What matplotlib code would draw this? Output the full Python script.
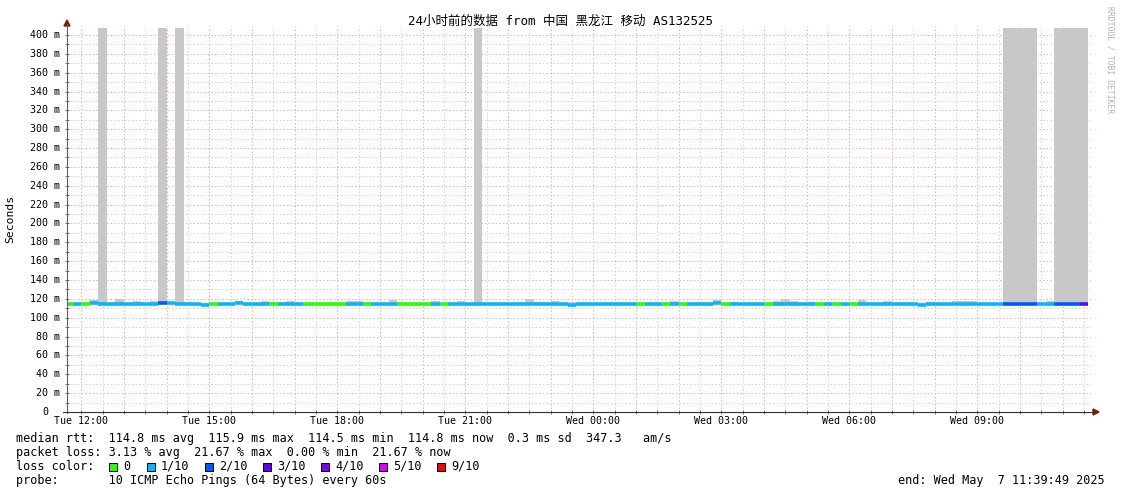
import numpy as np
import matplotlib
matplotlib.use('Agg')
import matplotlib.pyplot as plt
from matplotlib.lines import Line2D
from matplotlib.patches import Rectangle, Polygon
from matplotlib.transforms import offset_copy

W, H = 1121, 494
MONO = 'DejaVu Sans Mono'

# time axis (hours since Tue 00:00), 12 minute bins
t_start = 11 + 39 / 60 + 49 / 3600
t_end = t_start + 24
bin_width = 0.2
bin_left = 11.6 + bin_width * np.arange(120)

# median rtt per bin (ms)
median = [
    114.8, 114.8, 114.3, 115.3, 114.6, 114.6, 115.1, 115.1, 115.1, 114.6,
    114.6, 115.3, 115.2, 114.8, 114.8, 114.8, 114.0, 114.6, 114.8, 114.8,
    115.4, 114.8, 114.8, 114.8, 114.3, 114.8, 114.8, 114.8, 114.6, 114.6,
    114.6, 114.6, 114.6, 114.8, 114.8, 114.6, 114.8, 114.8, 114.8, 114.6,
    114.6, 114.6, 114.6, 114.8, 114.8, 114.8, 114.8, 114.8, 114.8, 114.8,
    114.8, 114.8, 114.8, 114.8, 114.8, 114.8, 114.8, 114.8, 114.8, 114.0,
    114.8, 114.8, 114.8, 114.8, 114.8, 114.8, 114.8, 114.8, 114.8, 114.8,
    114.8, 114.8, 114.8, 114.8, 114.8, 114.8, 115.4, 114.8, 114.8, 114.8,
    114.8, 114.8, 114.8, 114.8, 114.8, 114.8, 114.8, 114.8, 114.8, 114.8,
    114.8, 114.8, 114.8, 114.8, 114.8, 114.8, 114.8, 114.8, 114.8, 114.8,
    114.0, 114.8, 114.8, 114.8, 114.8, 114.8, 114.8, 114.8, 114.8, 114.8,
    114.6, 114.6, 114.6, 114.6, 114.8, 114.8, 114.6, 114.6, 114.6, 114.6,
]

# lost pings out of 10 per bin
loss = [
    0, 1, 0, 1, 1, 1, 1, 1, 1, 1,
    1, 2, 1, 1, 1, 1, 1, 0, 1, 1,
    1, 1, 1, 1, 0, 1, 1, 1, 0, 0,
    0, 0, 0, 1, 1, 0, 1, 1, 1, 0,
    0, 0, 0, 1, 0, 1, 1, 1, 1, 1,
    1, 1, 1, 1, 1, 1, 1, 1, 1, 1,
    1, 1, 1, 1, 1, 1, 1, 0, 1, 1,
    0, 1, 0, 1, 1, 1, 1, 0, 1, 1,
    1, 1, 0, 1, 1, 1, 1, 1, 0, 1,
    0, 1, 0, 1, 1, 1, 1, 1, 1, 1,
    1, 1, 1, 1, 1, 1, 1, 1, 1, 1,
    2, 2, 2, 2, 1, 1, 2, 2, 2, 3,
]

# top of the smoke (max ping) per bin (ms)
smoke_top = [
    116.0, 116.0, 117.0, 118.8, 407.5, 116.0, 120.0, 116.0, 117.5, 116.0,
    117.5, 407.5, 116.0, 407.5, 117.0, 116.0, 116.0, 116.0, 116.0, 116.0,
    117.8, 116.0, 116.0, 118.0, 117.0, 116.0, 117.5, 116.0, 116.0, 116.0,
    116.0, 116.0, 116.0, 117.5, 117.5, 116.0, 116.0, 116.0, 119.0, 116.0,
    116.0, 116.0, 116.0, 117.5, 116.0, 116.0, 117.5, 116.0, 407.5, 116.0,
    116.0, 116.0, 116.0, 116.0, 119.5, 117.0, 116.0, 118.0, 116.0, 117.0,
    116.0, 116.0, 116.0, 116.0, 116.0, 116.0, 116.0, 116.0, 116.0, 116.0,
    116.0, 117.5, 116.0, 116.0, 117.0, 116.0, 118.5, 116.0, 117.0, 116.0,
    116.0, 116.0, 116.0, 117.5, 119.5, 117.5, 116.0, 117.0, 116.0, 116.0,
    116.0, 116.0, 116.0, 118.3, 116.0, 116.0, 117.3, 116.0, 116.0, 116.0,
    116.0, 117.0, 116.0, 116.0, 118.0, 118.0, 117.3, 116.0, 116.0, 116.0,
    407.5, 407.5, 407.5, 407.5, 116.0, 117.5, 407.5, 407.5, 407.5, 407.5,
]

loss_levels = [0, 1, 2, 3, 4, 5, 9]
loss_labels = ['0', '1/10', '2/10', '3/10', '4/10', '5/10', '9/10']
loss_colors = ['#26ff00', '#00b8ff', '#0059ff', '#5e00ff', '#7e00ff', '#dd00ff', '#ff0000']

xtick_pos = [12, 15, 18, 21, 24, 27, 30, 33]
xtick_labels = ['Tue 12:00', 'Tue 15:00', 'Tue 18:00', 'Tue 21:00',
                'Wed 00:00', 'Wed 03:00', 'Wed 06:00', 'Wed 09:00']
ytick_pos = list(range(0, 401, 20))

title = '24小时前的数据 from 中国 黑龙江 移动 AS132525'
stats_lines = [
    'median rtt:  114.8 ms avg  115.9 ms max  114.5 ms min  114.8 ms now  0.3 ms sd  347.3   am/s',
    'packet loss: 3.13 % avg  21.67 % max  0.00 % min  21.67 % now',
    'loss color:',
    'probe:       10 ICMP Echo Pings (64 Bytes) every 60s',
]
end_text = 'end: Wed May  7 11:39:49 2025'


def fx(x):
    return x / W


def fy(y):
    return 1 - y / H


fig = plt.figure(figsize=(W / 100, H / 100), dpi=100)
ax = fig.add_axes([fx(67), fy(412), 1024 / W, 386 / H])
ax.set_xlim(t_start, t_end)
ax.set_ylim(0, 409.5)
for s in ax.spines.values():
    s.set_visible(False)

# grid
dots = (0, (1.4, 2.2))
red_grid = '#f4aaaa'
gray_grid = '#d2d2d2'
for h in np.arange(12, 36, 1):
    ax.axvline(h, color=red_grid, lw=0.72, ls=dots, zorder=1)
for h in np.arange(12.5, 36, 1):
    if h < t_end:
        ax.axvline(h, color=gray_grid, lw=0.72, ls=dots, zorder=1)
for v in range(10, 401, 20):
    ax.axhline(v, color=gray_grid, lw=0.72, ls=dots, zorder=1)
for v in range(20, 401, 20):
    ax.axhline(v, color=red_grid, lw=0.72, ls=dots, zorder=1)

# smoke
median = np.array(median)
smoke_top = np.array(smoke_top)
ax.bar(bin_left, smoke_top - median, width=bin_width, bottom=median, align='edge',
       color='#c8c8c8', linewidth=0, zorder=2)

# median line coloured by loss
cmap = dict(zip(loss_levels, loss_colors))
lc = ax.hlines(median, bin_left, bin_left + bin_width,
               colors=[cmap[l] for l in loss], linewidth=2.6, zorder=3)
lc.set_capstyle('butt')

# ticks
ax.set_xticks(xtick_pos)
ax.set_xticks(np.arange(12, 36, 0.5), minor=True)
ax.set_yticks(ytick_pos)
ax.set_yticks(range(10, 401, 10), minor=True)
ax.tick_params(which='both', direction='inout', length=2.5, width=0.7, color='#707070',
               labelbottom=False, labelleft=False)

xt = offset_copy(ax.get_xaxis_transform(), fig=fig, x=0, y=-9, units='dots')
for p, lab in zip(xtick_pos, xtick_labels):
    ax.text(p, 0, lab, transform=xt, ha='center', va='center', family=MONO, fontsize=7.2)
for v in ytick_pos:
    if v == 0:
        yt = offset_copy(ax.get_yaxis_transform(), fig=fig, x=-19, y=0, units='dots')
        lab = '0'
    else:
        yt = offset_copy(ax.get_yaxis_transform(), fig=fig, x=-7, y=0, units='dots')
        lab = '%d m' % v
    ax.text(0, v, lab, transform=yt, ha='right', va='center', family=MONO, fontsize=7.2)

# axis lines and arrows
fig.add_artist(Line2D([fx(67), fx(67)], [fy(413), fy(24)], color='#606060', lw=0.8,
                      transform=fig.transFigure))
fig.add_artist(Line2D([fx(63), fx(1094)], [fy(412), fy(412)], color='#303030', lw=0.8,
                      transform=fig.transFigure))
fig.add_artist(Polygon([[fx(64), fy(26)], [fx(70), fy(26)], [fx(67), fy(20)]], closed=True,
                       color='#8b1010', transform=fig.transFigure))
fig.add_artist(Polygon([[fx(1093), fy(409)], [fx(1093), fy(415)], [fx(1099), fy(412)]], closed=True,
                       color='#8b1010', transform=fig.transFigure))

# texts
fig.text(fx(560), fy(21), title, ha='center', va='center', fontsize=9,
         family=[MONO, 'Noto Sans CJK SC'])
fig.text(fx(10), fy(219), 'Seconds', rotation=90, ha='center', va='center',
         family=MONO, fontsize=8.2)
fig.text(fx(1110), fy(60), 'RRDTOOL / TOBI OETIKER', rotation=270, ha='center', va='center',
         family=MONO, fontsize=5.8, color='#b4b4b4')

line_y = [438, 452, 466, 480]
for y, s in zip(line_y, stats_lines):
    fig.text(fx(16), fy(y), s, ha='left', va='center', family=MONO, fontsize=8.5)
fig.text(fx(1105), fy(480), end_text, ha='right', va='center', family=MONO, fontsize=8.5)

box_x = [109, 147, 205, 263, 321, 379, 437]
for bx, c, lab in zip(box_x, loss_colors, loss_labels):
    fig.add_artist(Rectangle((fx(bx), fy(470.5)), 8 / W, 8 / H, facecolor=c,
                             edgecolor='black', lw=0.7, transform=fig.transFigure))
    fig.text(fx(bx + 14), fy(466), lab, ha='left', va='center', family=MONO, fontsize=8.5)

fig.savefig('out.png', dpi=100)
